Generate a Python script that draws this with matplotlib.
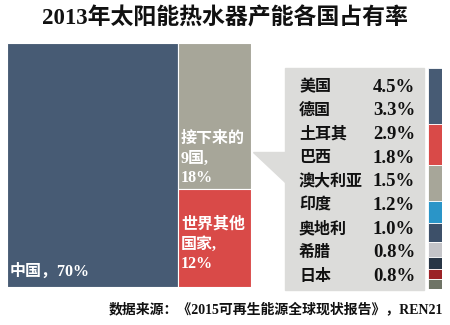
import matplotlib
matplotlib.use("Agg")
import matplotlib.pyplot as plt
from matplotlib.patches import Polygon, Rectangle

plt.rcParams['font.family'] = ['Liberation Serif', 'Noto Sans CJK SC', 'DejaVu Sans']

# Data
groups = ["中国", "接下来的9国", "世界其他国家"]
group_share = [70, 18, 12]
group_labels = ["中国，70%", "接下来的\n9国,\n18%", "世界其他\n国家,\n12%"]

countries = ["美国", "德国", "土耳其", "巴西", "澳大利亚", "印度", "奥地利", "希腊", "日本"]
country_share = [4.5, 3.3, 2.9, 1.8, 1.5, 1.2, 1.0, 0.8, 0.8]
country_labels = ["4.5%", "3.3%", "2.9%", "1.8%", "1.5%", "1.2%", "1.0%", "0.8%", "0.8%"]

c_blue = "#475b74"
c_gray = "#a7a699"
c_red = "#d94a48"
country_colors = [c_blue, c_red, c_gray, "#2a95c8", "#3d5069", "#c4c4c8",
                  "#283545", "#9b2226", "#6f7466"]

W, H = 450, 325
fig = plt.figure(figsize=(W / 100, H / 100), dpi=100)
fig.patch.set_facecolor("white")


def px_axes(x, y, w, h):
    return fig.add_axes([x / W, 1 - (y + h) / H, w / W, h / H])


def px(x, y):
    return x / W, 1 - y / H


# title
fig.text(*px(225, 18), "2013年太阳能热水器产能各国占有率", ha="center", va="center",
         fontsize=16.5, fontweight="bold", color="#111111")

# main block: China column, then next 9 + rest stacked
ax = px_axes(7, 43, 244, 244)
ax.set_xlim(0, 100)
ax.set_ylim(100, 0)
ax.axis("off")
china, nine, rest = group_share
ax.bar(0, 100, width=china, align="edge", color=c_blue, edgecolor="white", linewidth=0.8)
right_total = nine + rest
h_nine = nine / right_total * 100
ax.bar(china, h_nine, width=nine + rest, align="edge", color=c_gray, edgecolor="white", linewidth=0.8)
ax.bar(china, 100 - h_nine, bottom=h_nine, width=nine + rest, align="edge", color=c_red,
       edgecolor="white", linewidth=0.8)

lab_kw = dict(color="white", fontsize=11.5, fontweight="bold", ha="left", va="top",
              linespacing=1.3)
fig.text(*px(10, 264), group_labels[0], **lab_kw)
fig.text(*px(181, 131), group_labels[1], **lab_kw)
fig.text(*px(181, 217), group_labels[2], **lab_kw)

# callout box
box_col = "#dcdcda"
fig.patches.append(Rectangle(px(285, 290), 139 / W, 222 / H,
                             transform=fig.transFigure, color=box_col, zorder=0))
fig.patches.append(Polygon([px(253, 152), px(286, 152), px(286, 183)],
                           closed=True, transform=fig.transFigure, color=box_col, zorder=0))

row0, step = 87, 23.7
for i, (name, lab) in enumerate(zip(countries, country_labels)):
    y = row0 + i * step
    fig.text(*px(299, y), name, fontsize=11.5, fontweight="bold", ha="left", va="center",
             color="#111111")
    fig.text(*px(415, y), lab, fontsize=13.5, fontweight="bold", ha="right", va="center",
             color="#111111")

# right stacked bar of the nine countries
axr = px_axes(428, 68, 14, 221)
axr.set_xlim(0, 1)
axr.set_ylim(sum(country_share), 0)
axr.axis("off")
bottom = 0
for v, c in zip(country_share, country_colors):
    axr.bar(0, v, bottom=bottom, width=1, align="edge", color=c, edgecolor="white", linewidth=0.6)
    bottom += v

# source
fig.text(*px(443, 309), "数据来源：《2015可再生能源全球现状报告》，REN21",
         ha="right", va="center", fontsize=10, fontweight="bold", color="#111111")

fig.savefig("out.png", dpi=100, facecolor="white")
